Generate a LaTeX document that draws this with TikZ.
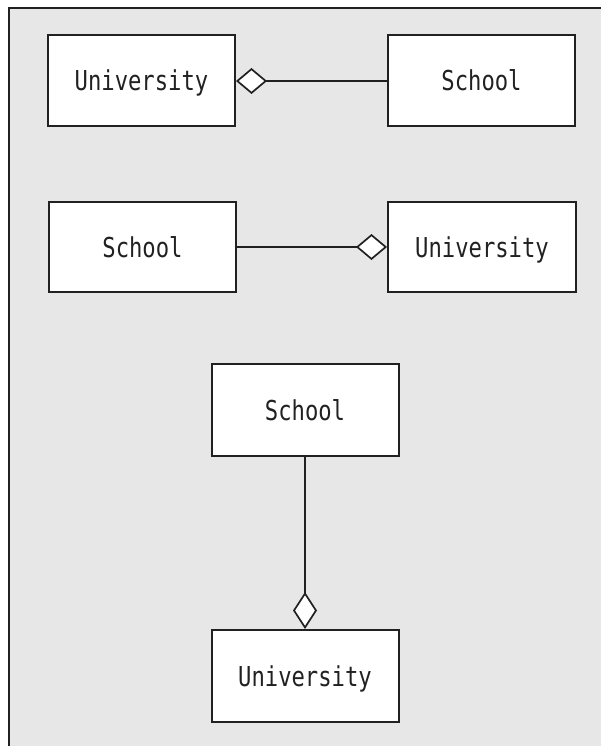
\documentclass[tikz,border=0pt]{standalone}
\usepackage{fontspec}
\usetikzlibrary{arrows.meta}
\newfontfamily\classfont{DejaVu Sans Mono}[FakeStretch=0.81]
\definecolor{panel}{gray}{0.905}
\definecolor{ink}{gray}{0.13}
\tikzset{
  classbox/.style={draw=ink, line width=2pt, fill=white,
    minimum width=187pt, minimum height=91pt, inner sep=0pt,
    text height=20pt, text depth=0pt,
    font=\classfont\fontsize{27.4pt}{30pt}\selectfont, text=ink},
  agg/.style={draw=ink, line width=1.7pt,
    -{Diamond[fill=white, length=31pt, width=26pt, line width=1.7pt]}},
  aggv/.style={draw=ink, line width=1.7pt,
    -{Diamond[fill=white, length=37pt, width=24pt, line width=1.7pt]}}
}
\begin{document}
\begin{tikzpicture}[x=1pt, y=-1pt]
  \useasboundingbox (0,0) rectangle (601,746);
  \fill[white] (0,0) rectangle (601,746);
  % grey panel with its top and left edges
  \fill[panel] (9,8) rectangle (610,760);
  \draw[ink, line width=2pt] (9,760) -- (9,8) -- (610,8);

  % first row: University <>-- School
  \node[classbox] (u1) at (141.5,81) {University};
  \node[classbox] (s1) at (481.5,81) {School};
  \draw[agg] (s1) -- (u1);

  % second row: School --<> University
  \node[classbox, minimum height=90pt] (s2) at (142.5,247) {School};
  \node[classbox, minimum height=90pt, minimum width=188pt] (u2) at (482,247) {University};
  \draw[agg] (s2) -- (u2);

  % vertical: School above, University below
  \node[classbox, minimum height=92pt] (s3) at (305,410) {School};
  \node[classbox, minimum height=92pt] (u3) at (305,676) {University};
  \draw[aggv] (s3) -- (u3);
\end{tikzpicture}
\end{document}
